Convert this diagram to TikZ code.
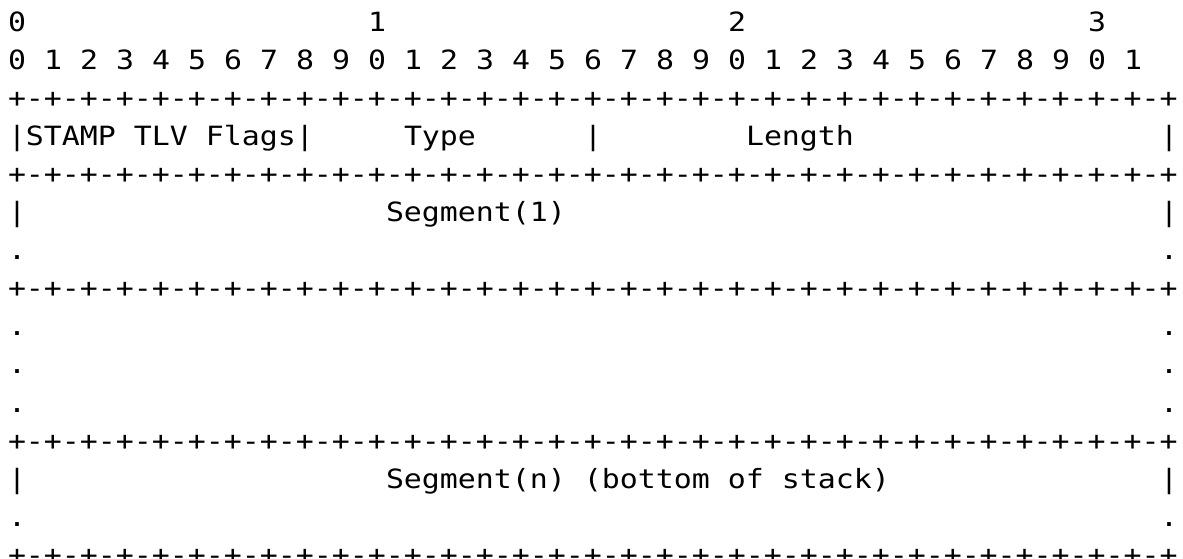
\documentclass[tikz,border=0pt]{standalone}
\usepackage{fontspec}
\setmonofont[FakeStretch=1.128]{DejaVu Sans Mono}
\begin{document}
\begin{tikzpicture}[x=1bp,y=1bp,
  txt/.style={anchor=base west, inner sep=0pt, outer sep=0pt, text=black,
    font=\ttfamily\fontsize{26.5bp}{38bp}\selectfont}]
\useasboundingbox (0,0) rectangle (1183,-559);
% column c -> x = 8+18c ; row r -> baseline y = -(32+38r)
% bit-number header
\node[txt] (t0) at ({8+18*0},{-(32+38*0)}) {0};
\node[txt] (t1) at ({8+18*20},{-(32+38*0)}) {1};
\node[txt] (t2) at ({8+18*40},{-(32+38*0)}) {2};
\node[txt] (t3) at ({8+18*60},{-(32+38*0)}) {3};
\foreach \d [count=\i from 0] in {0,1,2,3,4,5,6,7,8,9,0,1,2,3,4,5,6,7,8,9,0,1,2,3,4,5,6,7,8,9,0,1}
  \node[txt] (b\i) at ({8+36*\i},{-(32+38*1)}) {\d};
% separator rows
\foreach \r in {2,4,7,11,14}
  \node[txt] (sep\r) at (8,{-(32+38*\r)}) {+-+-+-+-+-+-+-+-+-+-+-+-+-+-+-+-+-+-+-+-+-+-+-+-+-+-+-+-+-+-+-+-+};
% row 3
\node[txt] (l3) at ({8+18*0},{-(32+38*3)}) {|STAMP~TLV~Flags|};
\node[txt] (type) at ({8+18*22},{-(32+38*3)}) {Type};
\node[txt] (bar3) at ({8+18*32},{-(32+38*3)}) {|};
\node[txt] (len) at ({8+18*41},{-(32+38*3)}) {Length};
\node[txt] (r3) at ({8+18*64},{-(32+38*3)}) {|};
% row 5
\node[txt] (l5) at ({8+18*0},{-(32+38*5)}) {|};
\node[txt] (seg1) at ({8+18*21},{-(32+38*5)}) {Segment(1)};
\node[txt] (r5) at ({8+18*64},{-(32+38*5)}) {|};
% row 12
\node[txt] (l12) at ({8+18*0},{-(32+38*12)}) {|};
\node[txt] (segn) at ({8+18*21},{-(32+38*12)}) {Segment(n)~(bottom~of~stack)};
\node[txt] (r12) at ({8+18*64},{-(32+38*12)}) {|};
% dot rows
\foreach \r in {6,8,9,10,13} {
  \node[txt] (dl\r) at ({8+18*0},{-(32+38*\r)}) {.};
  \node[txt] (dr\r) at ({8+18*64},{-(32+38*\r)}) {.};
}
\end{tikzpicture}
\end{document}
